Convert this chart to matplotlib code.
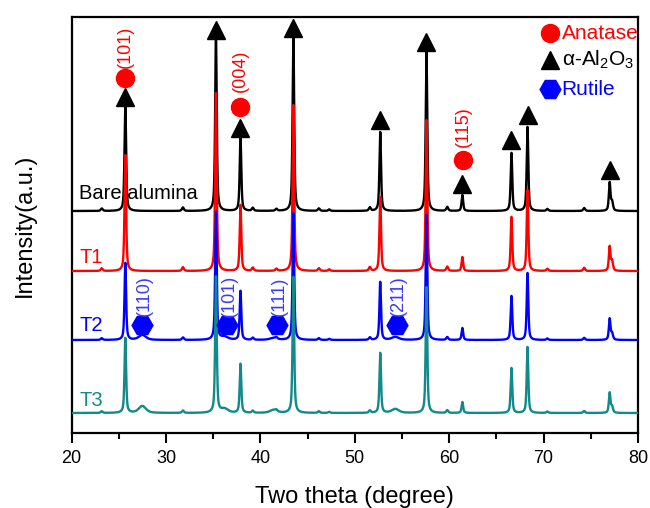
import numpy as np
import matplotlib
matplotlib.use("Agg")
import matplotlib.pyplot as plt

plt.rcParams['font.family'] = ['Liberation Sans', 'DejaVu Sans']
plt.rcParams['mathtext.fontset'] = 'custom'
plt.rcParams['mathtext.rm'] = 'Liberation Sans'
plt.rcParams['mathtext.it'] = 'Liberation Sans'

# alumina reflections (2theta) and peak heights above each baseline
peak_pos = [25.7, 35.3, 37.9, 43.5, 52.7, 57.6, 61.4, 66.6, 68.3, 77.0]
h_bare = [108, 176, 74, 176, 79, 159, 16, 58, 84, 28]
h_t1 = [116, 178, 66, 166, 74, 151, 14, 54, 81, 24]
h_t2 = [77, 128, 49, 127, 58, 125, 12, 44, 67, 21]
h_t3 = [75, 136, 49, 136, 60, 126, 11, 45, 66, 20]

# weak reflections shared by all samples
minor_pos = [23.2, 31.8, 39.2, 41.7, 46.2, 47.3, 51.6, 59.8, 70.4, 74.3, 77.25]
minor_h = [2.5, 3.5, 3, 2, 2.5, 1.5, 3.5, 4, 2, 3, 9]

# broad rutile humps in T2 / T3
rutile_pos = [27.5, 36.2, 41.4, 54.3]
rutile_t2 = [5, 3, 2, 3]
rutile_t3 = [7, 4, 3, 4]

baselines = [222, 162, 93, 20]
names = ['Bare alumina', 'T1', 'T2', 'T3']
colors = ['black', 'red', 'blue', '#108a8a']

# markers
tri_x = [25.7, 35.3, 37.9, 43.5, 52.7, 57.6, 61.4, 66.6, 68.3, 77.0]
tri_y = [336, 403, 305, 405, 313, 391, 249, 293, 318, 263]
ana_x = [25.7, 37.9, 61.5]
ana_y = [355, 326, 273]
ana_lbl = ['(101)', '(004)', '(115)']
ana_lbl_y = [386, 362, 306]
rut_x = [27.5, 36.5, 41.8, 54.45]
rut_y = [108, 108, 108, 108]
rut_lbl = ['(110)', '(101)', '(111)', '(211)']
rut_lbl_y = [137, 137, 137, 137]

x = np.arange(20, 80.001, 0.02)


def profile(pos, hts, width):
    y = np.zeros_like(x)
    for p, h in zip(pos, hts):
        d = (x - p) / width
        y += h * (0.6 / (1 + d ** 2) + 0.4 * np.exp(-np.log(2) * d ** 2))
    return y


fig = plt.figure(figsize=(6.5, 5.08), dpi=100)
ax = fig.add_axes([0.110, 0.1476, 0.8715, 0.8189])

heights = [h_bare, h_t1, h_t2, h_t3]
humps = [None, None, rutile_t2, rutile_t3]
for i in range(4):
    y = baselines[i] + profile(peak_pos, heights[i], 0.1)
    y += profile(minor_pos, minor_h, 0.12) * (heights[i][0] / 108)
    if humps[i] is not None:
        y += profile(rutile_pos, humps[i], 0.45)
    ax.plot(x, y, color=colors[i], lw=1.7, zorder=2 + i)

label_y = [240, 176, 108, 33]
for i in range(4):
    ax.text(20.8, label_y[i], names[i], color=colors[i], fontsize=14.5,
            va='center', ha='left', zorder=1)

ax.plot(tri_x, tri_y, '^', color='black', ms=13, ls='none', zorder=10)
ax.plot(ana_x, ana_y, 'o', color='red', ms=13, ls='none', zorder=10)
for xx, yy, t in zip(ana_x, ana_lbl_y, ana_lbl):
    ax.text(xx, yy, t, color='red', fontsize=13, rotation=90,
            ha='center', va='center', zorder=11)
ax.plot(rut_x, rut_y, 'H', color='blue', ms=15, ls='none', zorder=10)
for xx, yy, t in zip(rut_x, rut_lbl_y, rut_lbl):
    ax.text(xx + 0.2, yy, t, color='#3a3aff', fontsize=13, rotation=90,
            ha='center', va='center', zorder=11)

# phase key
ax.plot([70.68], [400], 'o', color='red', ms=13, zorder=10)
ax.plot([70.68], [373], '^', color='black', ms=13, zorder=10)
ax.plot([70.68], [344], 'H', color='blue', ms=15, zorder=10)
ax.text(71.9, 400, 'Anatase', color='red', fontsize=15, va='center')
ax.text(71.9, 373, r'α-Al$_2$O$_3$', color='black', fontsize=15, va='center')
ax.text(71.9, 344, 'Rutile', color='blue', fontsize=15, va='center')

ax.set_xlim(20, 80)
ax.set_ylim(0, 416)
ax.set_xticks(np.arange(20, 81, 10))
ax.set_xticks(np.arange(25, 80, 10), minor=True)
ax.set_yticks([])
ax.tick_params(axis='x', which='major', length=7, width=1.5, labelsize=13, pad=5)
ax.tick_params(axis='x', which='minor', length=4.5, width=1.5)
for s in ax.spines.values():
    s.set_linewidth(1.6)

ax.set_xlabel('Two theta (degree)', fontsize=17)
ax.xaxis.set_label_coords(0.5, -0.154)
ax.xaxis.label.set_va('center')
ax.set_ylabel('Intensity(a.u.)', fontsize=17)
ax.yaxis.set_label_coords(-0.082, 0.5)
ax.yaxis.label.set_va('center')

fig.savefig('out.png', dpi=100)
